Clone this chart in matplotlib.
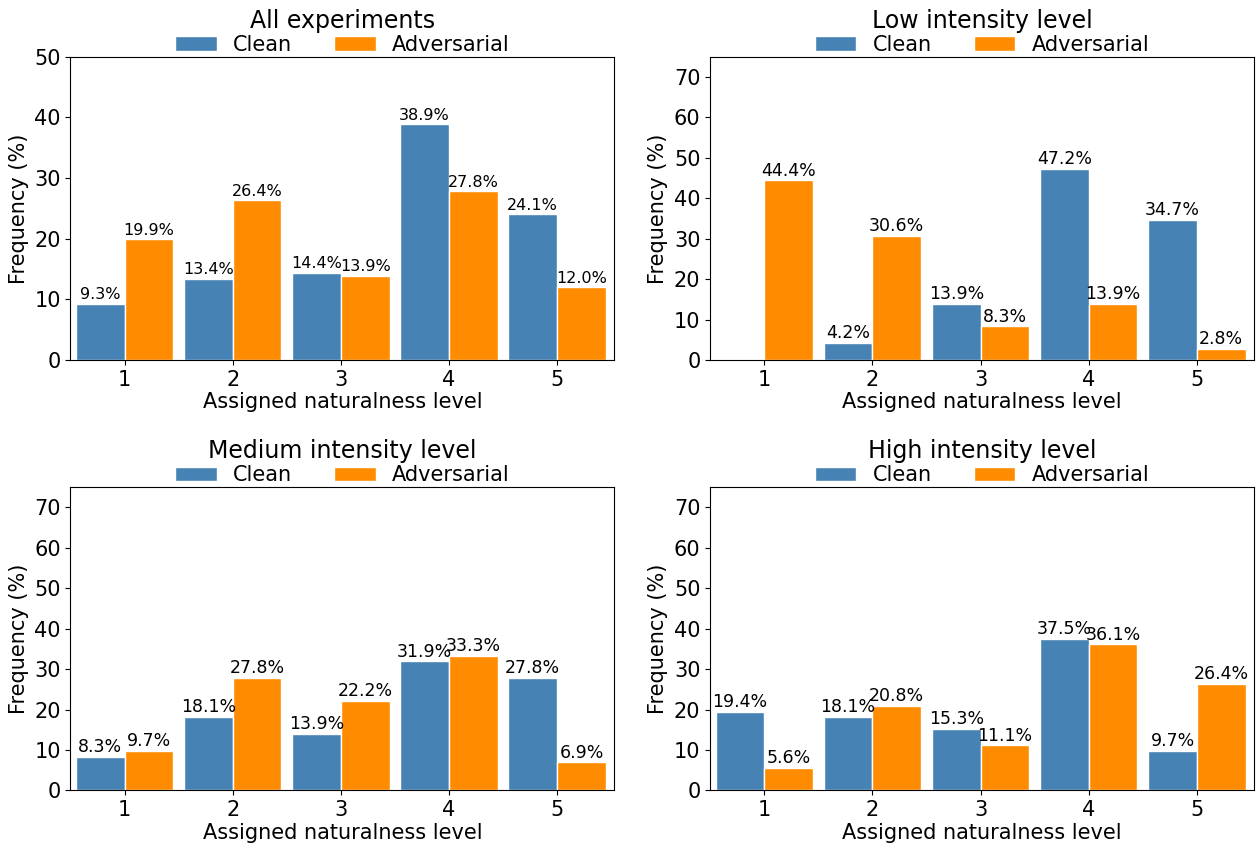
import numpy as np
import matplotlib
matplotlib.use("Agg")
import matplotlib.pyplot as plt

levels = [1, 2, 3, 4, 5]

titles = ["All experiments", "Low intensity level",
          "Medium intensity level", "High intensity level"]

clean_all = [9.3, 13.4, 14.4, 38.9, 24.1]
adv_all = [19.9, 26.4, 13.9, 27.8, 12.0]

clean_low = [0.0, 4.2, 13.9, 47.2, 34.7]
adv_low = [44.4, 30.6, 8.3, 13.9, 2.8]

clean_med = [8.3, 18.1, 13.9, 31.9, 27.8]
adv_med = [9.7, 27.8, 22.2, 33.3, 6.9]

clean_high = [19.4, 18.1, 15.3, 37.5, 9.7]
adv_high = [5.6, 20.8, 11.1, 36.1, 26.4]

panels = [(clean_all, adv_all), (clean_low, adv_low),
          (clean_med, adv_med), (clean_high, adv_high)]
ylims = [50, 75, 75, 75]
label_sizes = [11.5, 12.5, 12.5, 12.5]

fig, axes = plt.subplots(2, 2, figsize=(12.58, 8.48), dpi=100)
fig.subplots_adjust(left=0.056, right=0.997, top=0.933, bottom=0.068,
                    wspace=0.176, hspace=0.42)

w = 0.45
x = np.array(levels)
for ax, title, (clean, adv), ymax, lsz in zip(axes.flat, titles, panels, ylims, label_sizes):
    b1 = ax.bar(x, clean, width=-w, align="edge", color="steelblue",
                edgecolor="white", linewidth=1, label="Clean")
    b2 = ax.bar(x, adv, width=w, align="edge", color="darkorange",
                edgecolor="white", linewidth=1, label="Adversarial")
    for bars, vals in ((b1, clean), (b2, adv)):
        for rect, v in zip(bars, vals):
            if v == 0:
                continue
            ax.text(rect.get_x() + rect.get_width() / 2, v + 0.2,
                    f"{v:.1f}%", ha="center", va="bottom", fontsize=lsz)
    ax.set_xlim(0.5, 5.53)
    ax.set_ylim(0, ymax)
    ax.set_xticks(levels)
    ax.set_yticks(np.arange(0, ymax + 1, 10))
    ax.tick_params(labelsize=15)
    ax.set_xlabel("Assigned naturalness level", fontsize=15, labelpad=2)
    ax.set_ylabel("Frequency (%)", fontsize=15, labelpad=4)
    ax.set_title(title, fontsize=17, pad=21)
    ax.legend(loc="lower center", bbox_to_anchor=(0.5, 0.965), ncol=2,
              frameon=False, fontsize=15, borderpad=0.1)

fig.savefig("out.png", dpi=100)
